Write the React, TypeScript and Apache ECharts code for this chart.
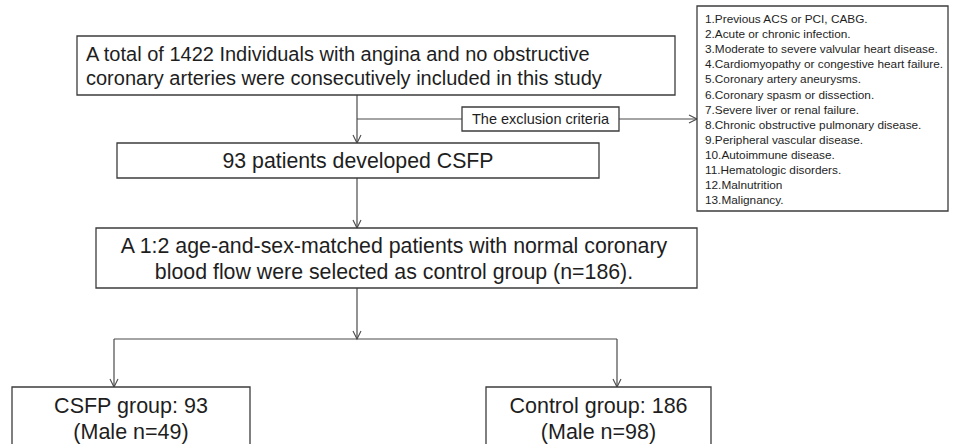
import React, { useEffect, useRef } from "react";
import * as echarts from "echarts";

const topBoxLines = [
  "A total of 1422 Individuals with angina and no obstructive",
  "coronary arteries were consecutively included in this study",
];
const csfpLines = ["93 patients developed CSFP"];
const matchedLines = [
  "A 1:2 age-and-sex-matched patients with normal coronary",
  "blood flow were selected as control group (n=186).",
];
const exclusionLabel = "The exclusion criteria";
const criteriaList = [
  "1.Previous ACS or PCI, CABG.",
  "2.Acute or chronic infection.",
  "3.Moderate to severe valvular heart disease.",
  "4.Cardiomyopathy or congestive heart failure.",
  "5.Coronary artery aneurysms.",
  "6.Coronary spasm or dissection.",
  "7.Severe liver or renal failure.",
  "8.Chronic obstructive pulmonary disease.",
  "9.Peripheral vascular disease.",
  "10.Autoimmune disease.",
  "11.Hematologic disorders.",
  "12.Malnutrition",
  "13.Malignancy.",
];
const csfpGroupLines = ["CSFP group: 93", "(Male n=49)"];
const controlGroupLines = ["Control group: 186", "(Male n=98)"];

const FONT = '"Liberation Sans", Arial, sans-serif';
const BOX_STROKE = "#3c3c3c";
const LINE = "#4a4a4a";
const TEXT = "#1e1e1e";

function box(x: number, y: number, w: number, h: number) {
  return {
    type: "rect",
    shape: { x, y, width: w, height: h },
    style: { fill: "#fff", stroke: BOX_STROKE, lineWidth: 1.3 },
  };
}
function line(x1: number, y1: number, x2: number, y2: number) {
  return {
    type: "line",
    shape: { x1, y1, x2, y2 },
    style: { stroke: LINE, lineWidth: 1.2 },
  };
}
function arrowDown(x: number, y: number) {
  return {
    type: "polyline",
    shape: { points: [[x - 4, y - 8], [x, y], [x + 4, y - 8]] },
    style: { stroke: LINE, lineWidth: 1.1, fill: null },
  };
}
function arrowRight(x: number, y: number) {
  return {
    type: "polyline",
    shape: { points: [[x - 8, y - 4], [x, y], [x - 8, y + 4]] },
    style: { stroke: LINE, lineWidth: 1.1, fill: null },
  };
}
function text(
  s: string,
  x: number,
  y: number,
  size: number,
  align: string = "center",
  scaleX: number = 1
) {
  return {
    type: "text",
    z: 10,
    x,
    y,
    scaleX,
    style: {
      text: s,
      x: 0,
      y: 0,
      font: `${size}px ${FONT}`,
      fill: TEXT,
      textAlign: align,
      textVerticalAlign: "middle",
      align,
      verticalAlign: "middle",
    },
  };
}

export default function App() {
  const ref = useRef<HTMLDivElement>(null);
  useEffect(() => {
    if (!ref.current) return;
    const chart = echarts.init(ref.current, null, { renderer: "svg" });
    const els: any[] = [];

    // connectors
    els.push(line(357, 95, 357, 143));
    els.push(arrowDown(357, 143));
    els.push(line(357, 119, 462, 119));
    els.push(line(619, 119, 697, 119));
    els.push(arrowRight(697, 119));
    els.push(line(357, 178, 357, 228));
    els.push(arrowDown(357, 228));
    els.push(line(357, 288, 357, 339));
    els.push(arrowDown(357, 339));
    els.push(line(114, 339, 617, 339));
    els.push(line(114, 339, 114, 387));
    els.push(arrowDown(114, 387));
    els.push(line(617, 339, 617, 387));
    els.push(arrowDown(617, 387));

    // box 1
    els.push(box(77, 36, 598, 59));
    topBoxLines.forEach((s, i) => els.push(text(s, 86, 54 + i * 24, 20, "left")));

    // exclusion label
    els.push(box(462, 107, 157, 24));
    els.push(text(exclusionLabel, 540.5, 119, 14.5));

    // criteria list
    els.push(box(697, 6, 251, 205));
    criteriaList.forEach((s, i) => els.push(text(s, 705, 19 + i * 15.1, 11.8, "left")));

    // box 2
    els.push(box(117, 143, 482, 35));
    csfpLines.forEach((s) => els.push(text(s, 358, 161, 21.3)));

    // box 3
    els.push(box(96, 228, 601, 60));
    matchedLines.forEach((s, i) => els.push(text(s, 394, 245 + i * 26, 22, "center", 0.97)));

    // box 4 / 5
    els.push(box(12, 387, 238, 70));
    csfpGroupLines.forEach((s, i) => els.push(text(s, 131, 406 + i * 26, 21.5)));
    els.push(box(486, 387, 225, 70));
    controlGroupLines.forEach((s, i) => els.push(text(s, 598.5, 406 + i * 26, 21.5)));

    chart.setOption({
      animation: false,
      backgroundColor: "#ffffff",
      graphic: { elements: els },
    });
    return () => chart.dispose();
  }, []);
  return (
    <div
      ref={ref}
      style={{ position: "fixed", left: 0, top: 0, width: 954, height: 444 }}
    />
  );
}
